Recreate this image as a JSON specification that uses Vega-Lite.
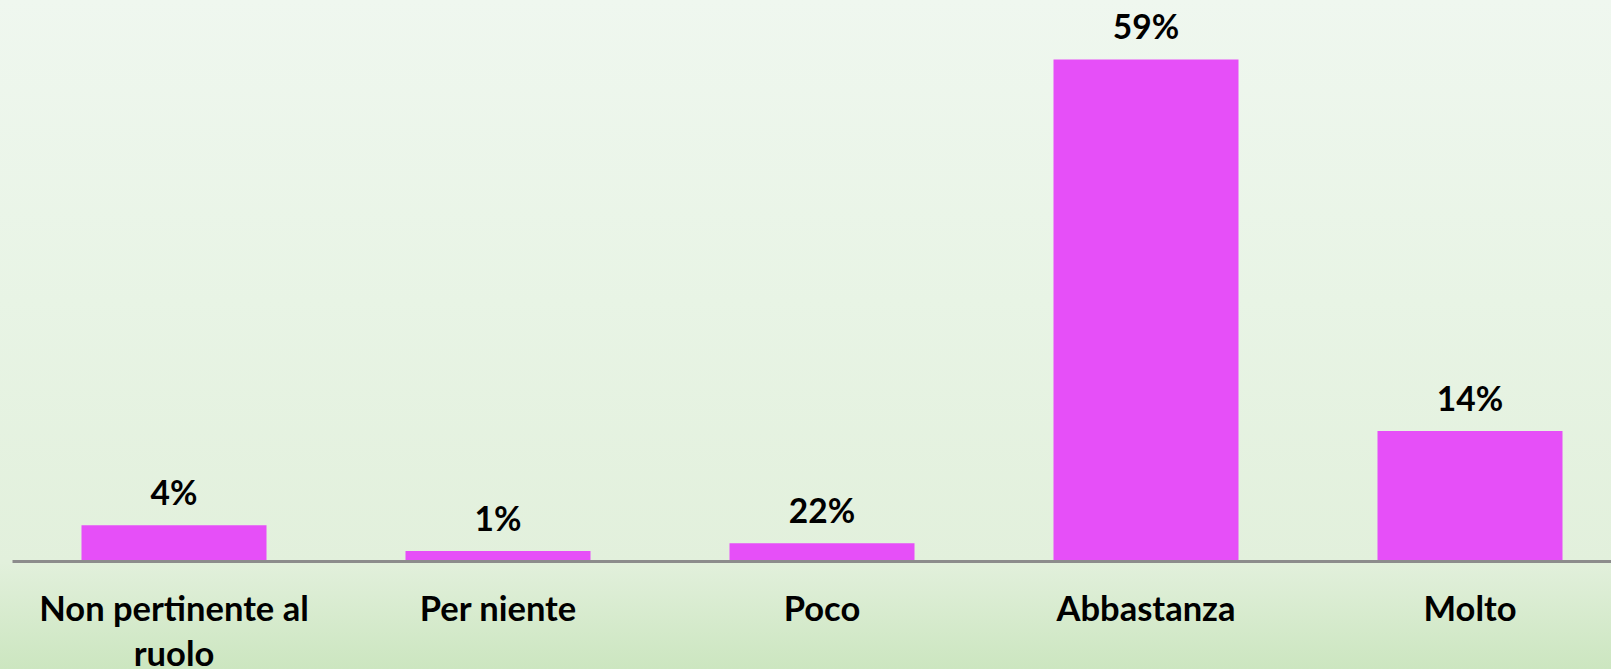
{
  "$schema": "https://vega.github.io/schema/vega-lite/v6.json",
  "width": 1611,
  "height": 669,
  "autosize": {"type": "none"},
  "padding": 0,
  "background": "#e4f1df",
  "view": {
    "stroke": null,
    "fill": {
      "gradient": "linear",
      "x1": 0, "y1": 0, "x2": 0, "y2": 1,
      "stops": [
        {"offset": 0, "color": "#eff7ef"},
        {"offset": 0.45, "color": "#e8f4e5"},
        {"offset": 0.84, "color": "#e2f0dc"},
        {"offset": 1, "color": "#cce6c0"}
      ]
    }
  },
  "data": {
    "values": [
      {"cat": "Non pertinente al ruolo", "value": 4.1, "label": "4%"},
      {"cat": "Per niente", "value": 1.06, "label": "1%"},
      {"cat": "Poco", "value": 1.97, "label": "22%"},
      {"cat": "Abbastanza", "value": 59, "label": "59%"},
      {"cat": "Molto", "value": 15.2, "label": "14%"}
    ]
  },
  "encoding": {
    "x": {
      "field": "cat",
      "type": "nominal",
      "sort": null,
      "scale": {"range": [12, 1632], "paddingInner": 0.429, "paddingOuter": 0.2145},
      "axis": {
        "title": null,
        "orient": "bottom",
        "offset": -108,
        "domainColor": "#8c8c8c",
        "domainWidth": 3,
        "ticks": false,
        "tickSize": 0,
        "labelAngle": 0,
        "labelPadding": 32,
        "labelLimit": 0,
        "labelFont": "Lato",
        "labelFontWeight": "bold",
        "labelFontSize": 34.5,
        "labelColor": "#000000",
        "labelLineHeight": 45,
        "labelExpr": "datum.label == 'Non pertinente al ruolo' ? ['Non pertinente al', 'ruolo'] : datum.label"
      }
    },
    "y": {
      "field": "value",
      "type": "quantitative",
      "scale": {"domain": [0, 66], "range": [560, 0], "nice": false, "zero": true},
      "axis": null
    }
  },
  "layer": [
    {"mark": {"type": "bar", "color": "#e64ff8", "clip": false}},
    {
      "mark": {"type": "text", "font": "Lato", "fontWeight": "bold", "fontSize": 33.5, "baseline": "alphabetic", "dy": -20, "color": "#000000"},
      "encoding": {"text": {"field": "label"}}
    }
  ]
}
